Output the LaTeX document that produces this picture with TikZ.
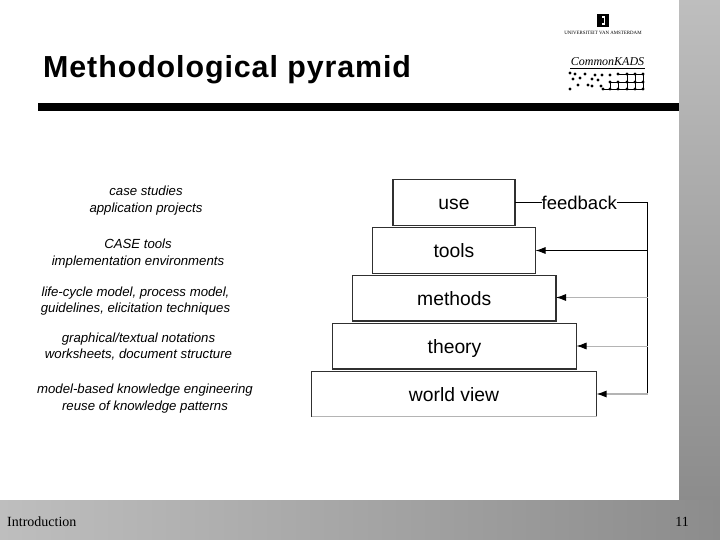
\documentclass[tikz,border=0pt]{standalone}
\usepackage{fontspec}
\setmainfont{Liberation Sans}
\newfontfamily\serifface{Liberation Serif}
\newfontfamily\titleface[LetterSpace=3]{Liberation Sans Bold}
\usetikzlibrary{arrows.meta,positioning}
\definecolor{barlight}{HTML}{BEBEBE}
\definecolor{bardark}{HTML}{8C8C8C}
\definecolor{boxline}{HTML}{303030}
\definecolor{faintline}{HTML}{B4B4B4}
\tikzset{
  level/.style={minimum height=45.5pt,inner sep=0pt,outer sep=0pt,text height=14pt,text depth=0pt,font=\fontsize{19.3}{21}\selectfont},
  levelbox/.style={level,draw=boxline,line width=1.1pt},
  hint/.style={align=center,inner sep=0pt,font=\fontsize{13.2}{16.3}\selectfont\itshape},
  tip/.style={{Latex[length=10pt,width=7pt,black]}-},
  griddot/.style={circle,fill=black,inner sep=0pt,minimum size=3.2pt},
}
\begin{document}
\begin{tikzpicture}[x=1pt,y=-1pt]
        \useasboundingbox (0,0) rectangle (720,540);
        % Grey bands at the right and at the bottom
        \shade[top color=barlight,bottom color=bardark] (679,0) rectangle (720,500);
        \shade[left color=barlight,right color=bardark] (0,500) rectangle (720,540);
        % Title and rule
        \node[anchor=base west,inner sep=0pt,font=\fontsize{30.4}{32}\selectfont\titleface] (title) at (43,78) {Methodological pyramid};
        \fill (38,103) rectangle (679,111);
        % Footer
        \node[anchor=west,inner sep=0pt,font=\fontsize{14}{16}\selectfont\serifface] (section) at (7,522) {Introduction};
        \node[anchor=east,inner sep=0pt,font=\fontsize{14}{16}\selectfont\serifface] (page) at (689,522) {11};
        % University logo
        \fill (597,14) rectangle (609,27);
        \fill[white] (601.5,16) rectangle (604.5,25);
        \fill (602.2,18) rectangle (603.8,23);
        \node[inner sep=0pt,font=\fontsize{4.9}{5}\selectfont\serifface] (uva) at (603,33) {UNIVERSITEIT VAN AMSTERDAM};
        % CommonKADS logo
        \node[inner sep=0pt,font=\fontsize{12}{12}\selectfont\serifface\itshape] (kads) at (607.5,62) {CommonKADS};
        \draw[line width=1pt] (570,68.3) -- (645,68.3);
        \foreach \px/\py in {570/73,575/74,585/74,595/75,602/75,610/75,
                             573/79,580/78,592/79,598/80,
                             578/85,588/85,601/86,
                             570/89,592/86}
            \node[griddot] at (\px,\py) {};
        \foreach \px in {627,635,643} {
            \foreach \py in {74,82,89}
                \node[griddot] at (\px,\py) {};
            \draw[line width=.6pt] (\px,74) -- (\px,89);
        }
        \node[griddot] at (618,74) {};
        \node[griddot] at (618,82) {};
        \node[griddot] at (618,89) {};
        \node[griddot] at (610,82) {};
        \node[griddot] at (610,89) {};
        \node[griddot] at (603,89) {};
        \draw[line width=.6pt] (618,74) -- (643,74);
        \draw[line width=.6pt] (610,82) -- (643,82);
        \draw[line width=.6pt] (603,89) -- (643,89);
        \draw[line width=.6pt] (610,82) -- (610,89);
        \draw[line width=.6pt] (618,82) -- (618,89);
        % Notes at the left
        \node[hint] (cases) at (146,200.5) {case studies\\application projects};
        \node[hint] (cased) at (138,253.5) {CASE tools\\implementation environments};
        \node[hint] (cycle) at (135.5,301) {life-cycle model, process model,\\guidelines, elicitation techniques};
        \node[hint] (sheets) at (138.5,346.5) {graphical/textual notations\\worksheets, document structure};
        \node[hint] (based) at (145,398.5) {model-based knowledge engineering\\reuse of knowledge patterns};
        % Levels of the pyramid
        \node[levelbox,minimum width=122pt] (use) at (454,202.7) {use};
        \node[levelbox,minimum width=163pt] (tools) at (454,250.5) {tools};
        \node[levelbox,minimum width=203.5pt] (methods) at (454.25,298.2) {methods};
        \node[levelbox,minimum width=244pt] (theory) at (454.5,346.2) {theory};
        \node[level,minimum width=285pt] (worldview) at (454,394) {world view};
        % The lowest level has a faint bottom edge
        \draw[boxline,line width=1.1pt] (worldview.south west) -- (worldview.north west) -- (worldview.north east) -- (worldview.south east);
        \draw[faintline,line width=1pt] (worldview.south west) -- (worldview.south east);
        % Feedback lines
        \node[right=26.5pt of use,inner sep=0pt,font=\fontsize{18.5}{20}\selectfont] (feedback) {feedback};
        \coordinate (corner) at (647.5,202.7);
        \coordinate (fortools) at (647.5,250.5);
        \coordinate (formethods) at (647.5,297.5);
        \coordinate (fortheory) at (647.5,346);
        \coordinate (forworld) at (647.5,394);
        \draw[line width=.9pt] (use) -- (feedback);
        \draw[line width=.9pt] (feedback) -- (corner) -- (forworld);
        \draw[tip,line width=.9pt] (tools.east |- fortools) -- (fortools);
        \draw[tip,faintline,line width=.8pt] (methods.east |- formethods) -- (formethods);
        \draw[tip,faintline,line width=.8pt] (theory.east |- fortheory) -- (fortheory);
        \draw[tip,faintline,line width=1.1pt] (worldview.east |- forworld) -- (forworld);
    \end{tikzpicture}
\end{document}
